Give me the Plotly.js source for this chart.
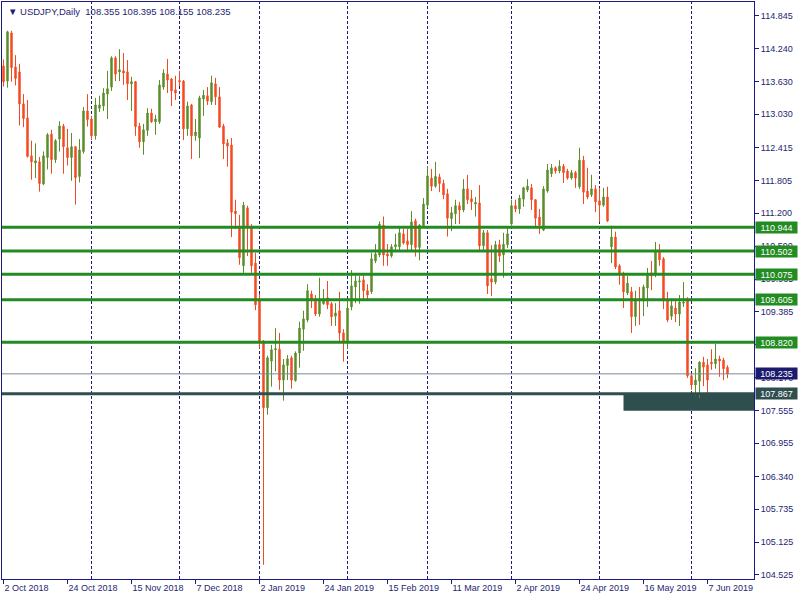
<!DOCTYPE html>
<html>
<head>
<meta charset="utf-8">
<script src="https://cdn.plot.ly/plotly-3.0.1.min.js"></script>
<style>
  html, body { margin: 0; padding: 0; background: #ffffff; }
  #chart { width: 800px; height: 600px; }
</style>
</head>
<body>
<div id="chart"></div>
<script>
// ---------------- data (USDJPY, Daily) ----------------
const symbol = "USDJPY,Daily";

const openP = [
113.92,113.64,114.53,113.90,113.81,113.22,112.96,112.26,112.13,112.15,
111.74,112.23,112.66,112.19,112.57,112.81,112.41,112.23,112.43,111.88,
112.34,113.09,112.94,112.63,113.14,113.18,113.40,113.53,114.07,113.81,
113.83,113.81,113.59,113.63,112.81,112.52,112.73,113.05,112.89,112.89,
113.53,113.77,113.68,113.48,113.65,113.64,112.76,113.20,112.63,112.59,
113.31,113.37,113.26,113.59,113.35,112.81,112.50,112.46,111.24,110.93,
110.23,111.30,110.95,110.28,109.62,108.84,107.61,108.47,108.68,108.69,
108.12,108.39,108.53,108.11,108.62,109.06,109.23,109.71,109.62,109.34,
109.53,109.64,109.53,109.30,109.40,108.99,108.81,109.47,109.84,109.93,
109.97,109.77,109.75,110.32,110.43,110.98,110.45,110.41,110.58,110.58,
110.82,110.69,110.62,111.06,110.57,110.97,111.35,111.85,111.70,111.87,
111.75,111.56,111.10,111.19,111.34,111.26,111.65,111.47,111.37,111.39,
110.60,110.84,109.99,109.93,110.62,110.43,110.62,111.00,111.34,111.28,
111.46,111.63,111.67,111.45,111.13,110.89,111.61,111.93,112.04,111.98,
112.07,111.98,111.85,111.95,111.69,112.18,111.61,111.54,111.65,111.43,
111.35,111.50,110.58,110.76,110.23,110.08,109.73,109.75,109.29,109.62,
109.58,109.82,110.10,110.06,110.50,110.36,109.60,109.30,109.45,109.34,
109.54,109.62,108.20,108.03,108.10,108.45,108.40,108.45,108.42,108.51,
108.49,108.355];

const highP = [
114.04,114.57,114.57,114.12,113.96,113.40,113.29,112.54,112.49,112.24,
112.34,112.68,112.74,112.57,112.90,112.85,112.76,112.68,112.44,112.57,
113.16,113.40,113.00,113.33,113.37,113.51,113.83,114.10,114.10,114.23,
114.16,114.03,113.72,113.64,112.87,112.85,113.14,113.13,113.02,113.66,
113.86,114.05,113.70,113.74,113.83,113.66,113.26,113.22,112.94,113.37,
113.48,113.53,113.74,113.70,113.53,112.85,112.57,112.59,111.45,111.17,
111.41,111.34,111.00,110.47,109.71,108.86,108.57,108.77,109.08,108.99,
108.51,108.58,108.57,108.65,109.20,109.40,109.89,109.77,109.69,110.01,
109.80,109.95,109.56,109.54,109.75,109.06,109.60,110.15,110.08,110.04,
110.08,109.89,110.47,110.63,111.05,111.14,110.63,110.63,110.82,110.93,
110.91,110.91,111.24,111.10,111.00,111.48,112.07,112.02,112.15,111.93,
111.82,111.65,111.32,111.45,111.41,111.83,111.91,111.63,111.50,111.72,
110.89,110.89,110.61,110.69,110.71,110.84,110.95,111.45,111.45,111.54,
111.69,111.83,111.74,111.46,111.28,111.70,112.11,112.11,112.07,112.18,
112.11,112.02,112.00,111.98,112.41,112.26,112.04,111.91,111.72,111.67,
111.67,111.69,110.97,110.86,110.26,110.12,110.04,109.84,109.77,109.84,
109.88,110.19,110.32,110.67,110.63,110.39,109.75,109.62,109.62,109.69,
109.93,109.65,108.23,108.34,108.47,108.55,108.51,108.69,108.79,108.57,
108.53,108.395];

const lowP = [
113.54,113.52,113.63,113.56,112.82,112.79,112.23,111.82,111.85,111.60,
111.72,112.01,111.93,112.13,112.34,111.93,112.08,111.80,111.36,111.77,
112.30,112.80,112.55,112.56,113.07,113.09,112.94,113.46,113.64,113.64,
113.57,113.29,113.09,112.63,112.41,112.28,112.63,112.87,112.65,112.85,
113.48,113.42,113.18,113.29,113.55,112.55,112.63,112.20,112.54,112.22,
113.00,113.20,113.20,113.20,112.78,112.20,112.06,110.76,110.91,110.25,
110.10,110.41,110.10,109.41,108.70,104.71,107.48,108.00,108.28,107.94,
107.74,108.12,107.96,108.09,108.35,108.66,109.19,109.45,109.30,109.29,
109.51,109.43,109.12,109.12,108.82,108.46,108.69,109.41,109.54,109.53,
109.58,109.60,109.71,110.28,110.39,110.23,110.23,110.38,110.49,110.52,
110.62,110.52,110.52,110.40,110.33,110.93,111.30,111.61,111.67,111.59,
111.46,110.77,110.87,111.00,111.00,111.22,111.37,111.26,111.14,110.52,
110.49,109.71,109.67,109.89,110.30,110.01,110.56,110.97,111.22,111.19,
111.32,111.59,111.26,110.95,110.82,110.87,111.58,111.87,111.93,111.94,
111.76,111.82,111.82,111.67,111.65,111.37,111.46,111.50,111.22,111.04,
111.32,111.04,110.28,110.17,109.88,109.45,109.69,108.99,109.12,109.14,
109.30,109.47,109.78,110.02,110.23,109.43,109.19,109.23,109.19,109.12,
109.47,108.16,107.94,107.83,107.79,108.01,107.85,108.31,108.33,108.18,
108.12,108.155];

const closeP = [
113.63,114.55,113.89,113.69,113.22,112.95,112.25,112.15,112.17,111.75,
112.26,112.65,112.19,112.54,112.81,112.43,112.23,112.43,111.86,112.37,
113.09,112.93,112.63,113.20,113.20,113.42,113.50,114.07,113.77,113.85,
113.79,113.59,113.63,112.80,112.52,112.74,113.05,112.89,112.94,113.57,
113.79,113.66,113.46,113.42,113.63,112.76,113.18,112.63,112.70,113.33,
113.38,113.27,113.61,113.35,112.79,112.48,112.44,111.22,111.19,110.38,
111.35,110.93,110.23,109.51,108.84,107.61,108.53,108.68,108.70,108.12,
108.40,108.51,108.12,108.62,109.08,109.25,109.77,109.62,109.34,109.60,
109.58,109.51,109.29,109.36,108.99,108.81,109.45,109.86,109.95,109.95,
109.77,109.69,110.36,110.45,111.00,110.43,110.41,110.58,110.62,110.84,
110.65,110.62,111.04,110.57,110.98,111.37,111.89,111.70,111.88,111.75,
111.54,111.11,111.21,111.34,111.26,111.65,111.45,111.41,111.40,110.60,
110.84,109.86,109.93,110.62,110.41,110.63,110.82,111.34,111.28,111.48,
111.67,111.70,111.45,111.11,110.98,111.65,112.00,112.04,111.98,112.07,
111.95,111.85,111.95,111.85,112.18,111.59,111.50,111.65,111.41,111.35,
111.50,111.06,110.76,110.21,110.08,109.75,109.91,109.29,109.62,109.58,
109.84,110.06,110.04,110.52,110.34,109.58,109.23,109.49,109.34,109.56,
109.56,108.20,108.03,108.12,108.45,108.36,108.12,108.42,108.51,108.47,
108.33,108.235];

// time-scale labels (every 16th daily bar) and the bar they belong to
const tickLabels = ["2 Oct 2018","24 Oct 2018","15 Nov 2018","7 Dec 2018","2 Jan 2019",
  "24 Jan 2019","15 Feb 2019","11 Mar 2019","2 Apr 2019","24 Apr 2019","16 May 2019","7 Jun 2019"];
const tickBars = [0,16,32,48,64,80,96,112,128,144,160,176];

// first bar of each month (vertical grid separators)
const monthStartBars = [22,44,64,86,106,127,149,172];

// price-scale labels
const priceTicks = [114.845,114.240,113.630,113.030,112.415,111.805,111.200,110.590,109.985,
  109.385,108.775,108.170,107.555,106.955,106.340,105.735,105.125,104.525];

// drawn horizontal levels
const greenLevels = [110.944,110.502,110.075,109.605,108.820];
const supportLevel = 107.867;
const zoneStartBar = 155;
const zoneBottom = 107.555;

// ---------------- styles ----------------
const NAVY = "#1a1a80";
const TXT = "#1e1e70";
const GREEN_LINE = "#228B22";
const SLATE = "#2F4F4F";
const BULL = "#5B8E2A";
const BEAR = "#F44A22";
const FONT = "Liberation Sans, Arial, sans-serif";

const xs = openP.map((_, i) => i);
const lastIdx = closeP.length - 1;
const bid = closeP[lastIdx];

const trace = {
  type: "candlestick",
  x: xs,
  open: openP, high: highP, low: lowP, close: closeP,
  increasing: { line: { color: BULL, width: 1 }, fillcolor: BULL },
  decreasing: { line: { color: BEAR, width: 1 }, fillcolor: BEAR },
  whiskerwidth: 0,
  hoverinfo: "skip",
  showlegend: false
};

const X0 = -0.375, X1 = 187.625;

const shapes = [];
monthStartBars.forEach(b => shapes.push({
  type: "line", xref: "x", yref: "paper", x0: b, x1: b, y0: 0, y1: 1,
  line: { color: NAVY, width: 1, dash: "3px,2px" }, layer: "below"
}));
shapes.push({
  type: "rect", xref: "x", yref: "y", x0: zoneStartBar, x1: X1,
  y0: zoneBottom, y1: supportLevel, fillcolor: SLATE, line: { width: 0 }, layer: "below"
});
greenLevels.forEach(v => shapes.push({
  type: "line", xref: "paper", yref: "y", x0: 0, x1: 1, y0: v, y1: v,
  line: { color: GREEN_LINE, width: 3 }, layer: "above"
}));
shapes.push({
  type: "line", xref: "paper", yref: "y", x0: 0, x1: 1, y0: supportLevel, y1: supportLevel,
  line: { color: SLATE, width: 3 }, layer: "above"
});
shapes.push({
  type: "line", xref: "paper", yref: "y", x0: 0, x1: 1, y0: bid, y1: bid,
  line: { color: "#778899", width: 1 }, layer: "above"
});

function badge(v, bg) {
  return {
    xref: "paper", yref: "y", x: 1, y: v, xanchor: "left", yanchor: "middle",
    xshift: 1, text: v.toFixed(3), showarrow: false,
    bgcolor: bg, width: 41, height: 11, borderpad: 0, align: "center",
    font: { family: FONT, size: 9, color: "#ffffff" }
  };
}
const annotations = [];
greenLevels.forEach(v => annotations.push(badge(v, GREEN_LINE)));
annotations.push(badge(bid, "#1a1a6e"));
annotations.push(badge(supportLevel, SLATE));

const f3 = v => v.toFixed(3);
annotations.push({
  xref: "paper", yref: "paper", x: 0, y: 1, xanchor: "left", yanchor: "top",
  xshift: 4, yshift: -2, showarrow: false, align: "left",
  text: "▼ " + symbol + "&nbsp;&nbsp;" + [openP[lastIdx], highP[lastIdx], lowP[lastIdx], closeP[lastIdx]].map(f3).join(" "),
  font: { family: FONT, size: 9.5, color: TXT }
});

const layout = {
  width: 800, height: 600,
  margin: { l: 2, r: 46, t: 2, b: 21, pad: 0 },
  paper_bgcolor: "#ffffff", plot_bgcolor: "#ffffff",
  showlegend: false,
  boxgap: 0.5,
  xaxis: {
    type: "linear", range: [X0, X1], showgrid: false, zeroline: false,
    showline: true, mirror: true, linecolor: NAVY, linewidth: 1,
    ticks: "outside", ticklen: 4, tickcolor: NAVY, tickwidth: 1,
    tickmode: "array", tickvals: tickBars, ticktext: tickLabels,
    ticklabelposition: "outside right",
    tickfont: { family: FONT, size: 9, color: TXT },
    rangeslider: { visible: false }, fixedrange: true
  },
  yaxis: {
    side: "right", range: [104.447, 115.101], showgrid: false, zeroline: false,
    showline: true, mirror: true, linecolor: NAVY, linewidth: 1,
    ticks: "outside", ticklen: 4, tickcolor: NAVY, tickwidth: 1,
    tickmode: "array", tickvals: priceTicks, ticktext: priceTicks.map(f3),
    tickfont: { family: FONT, size: 9, color: TXT },
    fixedrange: true
  },
  shapes: shapes,
  annotations: annotations
};

Plotly.newPlot("chart", [trace], layout, { displayModeBar: false, staticPlot: true });
</script>
</body>
</html>
